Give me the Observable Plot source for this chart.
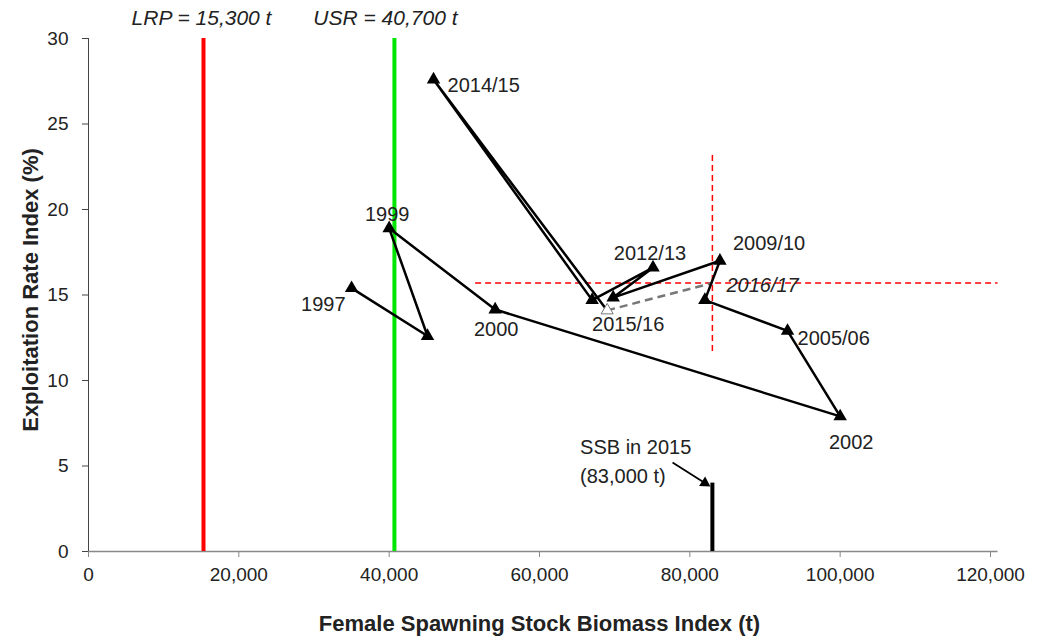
<!DOCTYPE html>
<html>
<head>
<meta charset="utf-8">
<script src="https://cdn.jsdelivr.net/npm/d3@7"></script>
<script src="https://cdn.jsdelivr.net/npm/@observablehq/plot@0.6"></script>
<style>
  html, body { margin: 0; padding: 0; background: #fff; }
  #chart { width: 1037px; height: 643px; }
  svg { font-family: "Liberation Sans", Arial, sans-serif; }
</style>
</head>
<body>
<div id="chart"></div>
<script>
// ---- Data ----
const periods = ["1997","1998","1999","2000","2002","2005/06","2006/07","2009/10","2010/11","2012/13","2013/14","2014/15","2015/16"];
const ssb = [35000, 45100, 40000, 54100, 100000, 93000, 82000, 84000, 69800, 75100, 67000, 45900, 69000];
const exploitation = [15.4, 12.6, 18.9, 14.15, 7.9, 12.9, 14.7, 17.0, 14.85, 16.6, 14.7, 27.6, 14.1];
const shownLabels = ["1997","1999","2000","2002","2005/06","2009/10","2012/13","2014/15","2015/16"];
const projected = {period: "2016/17", ssb: 83000, er: 15.7};
const LRP = 15300;
const USR = 40700;
const ssb2015 = 83000;
const ssb2015Bar = 4.0;
const refH = {er: 15.7, x1: 51500, x2: 121000};
const refV = {ssb: 83000, y1: 11.7, y2: 23.2};
const xTicks = [0, 20000, 40000, 60000, 80000, 100000, 120000];
const yTicks = [0, 5, 10, 15, 20, 25, 30];
const xTitle = "Female Spawning Stock Biomass Index (t)";
const yTitle = "Exploitation Rate Index (%)";
const ssbNote = "SSB in 2015\n(83,000 t)";
const noteAnchor = {ssb: 65400, er: 5.4};
const arrowFrom = {ssb: 77700, er: 5.2};
const arrowTo = {ssb: 82000, er: 4.0};

// ---- Build tables ----
const pts = periods.map((p, i) => ({period: p, ssb: ssb[i], er: exploitation[i]}));
const solidPts = pts.slice(0, pts.length - 1);
const lastPt = pts[pts.length - 1];
const labelOf = p => pts.find(d => d.period === p);

const fmt = d3.format(",");
const fsTick = 19;
const fs = 20;

// per-label placement (style config)
const place = {
  "1997":    {textAnchor: "end",    dx: -6,  dy: 16},
  "1999":    {textAnchor: "middle", dx: -2,  dy: -14},
  "2000":    {textAnchor: "middle", dx: 1,   dy: 20},
  "2002":    {textAnchor: "middle", dx: 11,  dy: 26},
  "2005/06": {textAnchor: "start",  dx: 10,  dy: 8},
  "2009/10": {textAnchor: "start",  dx: 13,  dy: -17},
  "2012/13": {textAnchor: "middle", dx: -3,  dy: -14},
  "2014/15": {textAnchor: "start",  dx: 14,  dy: 6},
  "2015/16": {textAnchor: "middle", dx: 21,  dy: 14}
};

const labelMarks = shownLabels.map(p => Plot.text([labelOf(p)], {
  x: "ssb", y: "er", text: "period", fontSize: fs, fill: "#222", ...place[p]
}));

const chart = Plot.plot({
  width: 1037,
  height: 643,
  marginLeft: 88,
  marginRight: 47,
  marginTop: 38,
  marginBottom: 92,
  style: {fontFamily: "'Liberation Sans', Arial, sans-serif", background: "#fff"},
  x: {domain: [0, 120000]},
  y: {domain: [0, 30]},
  marks: [
    // axes
    Plot.axisX({ticks: xTicks, tickFormat: fmt, tickSize: 6, tickPadding: 10, fontSize: fsTick, stroke: "#888", color: "#222", label: null}),
    Plot.axisY({ticks: yTicks, tickSize: 6, tickPadding: 14, fontSize: fsTick, stroke: "#444", color: "#222", label: null}),
    Plot.ruleY([0], {x1: 0, x2: 121000, stroke: "#888", strokeWidth: 1.5}),
    Plot.ruleX([0], {y1: 0, y2: 30, stroke: "#444", strokeWidth: 1}),
    // reference lines
    Plot.ruleX([LRP], {y1: 0, y2: 30, stroke: "#ff0000", strokeWidth: 4}),
    Plot.ruleX([USR], {y1: 0, y2: 30, stroke: "#00e600", strokeWidth: 4}),
    Plot.text([{x: LRP, t: "LRP = 15,300 t"}], {x: "x", y: () => 30, text: "t", dy: -20, dx: -2, fontSize: 21, fontStyle: "italic", fill: "#222"}),
    Plot.text([{x: USR, t: "USR = 40,700 t"}], {x: "x", y: () => 30, text: "t", dy: -20, dx: -9, fontSize: 21, fontStyle: "italic", fill: "#222"}),
    // red dashed crosshair
    Plot.ruleY([refH.er], {x1: refH.x1, x2: refH.x2, stroke: "#ff0000", strokeWidth: 1.5, strokeDasharray: "6,4"}),
    Plot.ruleX([refV.ssb], {y1: refV.y1, y2: refV.y2, stroke: "#ff0000", strokeWidth: 1.5, strokeDasharray: "6,4"}),
    // SSB 2015 bar
    Plot.ruleX([ssb2015], {y1: 0, y2: ssb2015Bar, stroke: "#000", strokeWidth: 4}),
    Plot.link([{x1: arrowFrom.ssb, y1: arrowFrom.er, x2: arrowTo.ssb, y2: arrowTo.er}], {x1: "x1", y1: "y1", x2: "x2", y2: "y2", stroke: "#000", strokeWidth: 1.8}),
    Plot.dot([arrowTo], {x: "ssb", y: "er", symbol: "triangle", r: 4.2, fill: "#000", rotate: 122.5}),
    Plot.text([noteAnchor], {x: "ssb", y: "er", text: () => ssbNote, textAnchor: "start", lineHeight: 1.45, fontSize: fs, fill: "#222"}),
    // projection dashed
    Plot.link([{x1: lastPt.ssb, y1: lastPt.er, x2: projected.ssb, y2: projected.er}], {x1: "x1", y1: "y1", x2: "x2", y2: "y2", stroke: "#777", strokeWidth: 2.5, strokeDasharray: "8,5"}),
    // trajectory
    Plot.line(pts, {x: "ssb", y: "er", stroke: "#000", strokeWidth: 2.5}),
    Plot.dot(solidPts, {x: "ssb", y: "er", symbol: "triangle", r: 5, fill: "#000"}),
    Plot.dot([lastPt], {x: "ssb", y: "er", symbol: "triangle", r: 4.5, fill: "#fff", stroke: "#777", strokeWidth: 1}),
    ...labelMarks,
    Plot.text([projected], {x: "ssb", y: "er", text: "period", textAnchor: "start", dx: 14, dy: 3, fontSize: fs, fontStyle: "italic", fill: "#222"}),
    // axis titles
    Plot.text([xTitle], {frameAnchor: "bottom", dy: 79, text: d => d, textAnchor: "middle", fontSize: 22, fontWeight: "bold", fill: "#222"}),
    Plot.text([yTitle], {frameAnchor: "left", dx: -58, dy: -5, rotate: -90, textAnchor: "middle", text: d => d, fontSize: 22, fontWeight: "bold", fill: "#222"})
  ]
});
document.getElementById("chart").appendChild(chart);
</script>
</body>
</html>
